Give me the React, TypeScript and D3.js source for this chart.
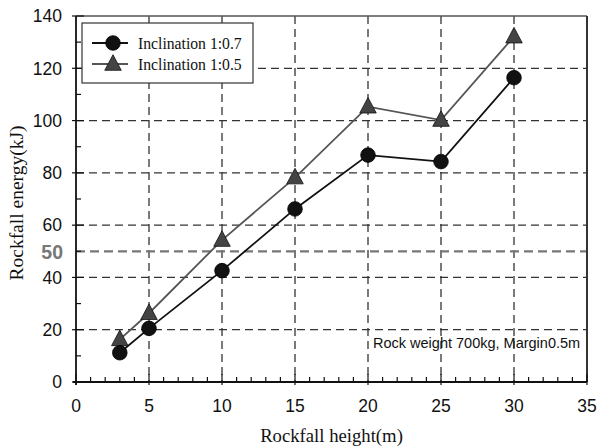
import { scaleLinear, line, range } from "d3";

const heights = [3, 5, 10, 15, 20, 25, 30];
const energy07 = [11.2, 20.5, 42.6, 66.2, 86.8, 84.3, 116.4];
const energy05 = [16.3, 26.3, 54.3, 78.2, 105.3, 100.2, 132.1];
const xTicks = [0, 5, 10, 15, 20, 25, 30, 35];
const yTicks = [0, 20, 40, 60, 80, 100, 120, 140];
const seriesNames = ["Inclination 1:0.7", "Inclination 1:0.5"];
const noteText = "Rock weight 700kg, Margin0.5m";

const width = 598;
const height = 448;
const left = 76;
const right = 587;
const top = 16;
const bottom = 382;

const sans = "'Liberation Sans', Arial, sans-serif";
const serif = "'Liberation Serif', 'Times New Roman', serif";

const triPath = (cx: number, cy: number, s: number) =>
  `M${cx},${cy - s * 0.62} L${cx + s * 0.55},${cy + s * 0.42} L${cx - s * 0.55},${cy + s * 0.42} Z`;

const App = () => {
  const xScale = scaleLinear().domain([0, 35]).range([left, right]);
  const yScale = scaleLinear().domain([0, 140]).range([bottom, top]);

  const lineGen = line<[number, number]>()
    .x((d) => xScale(d[0]))
    .y((d) => yScale(d[1]));

  const pts07 = heights.map((h, i) => [h, energy07[i]] as [number, number]);
  const pts05 = heights.map((h, i) => [h, energy05[i]] as [number, number]);

  return (
    <svg
      width={width}
      height={height}
      style={{ position: "absolute", left: 0, top: 0, background: "#fff" }}
    >
      {/* grid */}
      {xTicks.slice(1, -1).map((t) => (
        <line
          key={"gx" + t}
          x1={xScale(t)}
          x2={xScale(t)}
          y1={top}
          y2={bottom}
          stroke="#222"
          strokeWidth={1.2}
          strokeDasharray="8,5"
        />
      ))}
      {yTicks.slice(1, -1).map((t) => (
        <line
          key={"gy" + t}
          x1={left}
          x2={right}
          y1={yScale(t)}
          y2={yScale(t)}
          stroke="#333"
          strokeWidth={1.2}
          strokeDasharray="8,5"
        />
      ))}
      <line
        x1={left}
        x2={right}
        y1={yScale(50)}
        y2={yScale(50)}
        stroke="#777"
        strokeWidth={2.2}
        strokeDasharray="9,5"
      />

      {/* frame */}
      <line x1={left} x2={right} y1={top} y2={top} stroke="#555" strokeWidth={1.5} />
      <line x1={right} x2={right} y1={top} y2={bottom} stroke="#333" strokeWidth={2} />
      <line x1={left} x2={left} y1={top} y2={bottom + 3} stroke="#111" strokeWidth={1.8} />
      <line x1={left - 3} x2={right} y1={bottom} y2={bottom} stroke="#111" strokeWidth={1.8} />

      {/* x ticks */}
      {range(0, 36).map((t) => (
        <line
          key={"xt" + t}
          x1={xScale(t)}
          x2={xScale(t)}
          y1={t % 5 === 0 ? bottom + 3 : bottom}
          y2={t % 5 === 0 ? bottom - 8 : bottom - 5}
          stroke="#111"
          strokeWidth={1.2}
        />
      ))}
      {xTicks.map((t) => (
        <text
          key={"xl" + t}
          x={xScale(t)}
          y={bottom + 30}
          textAnchor="middle"
          fontFamily={sans}
          fontSize={17.5}
          fill="#111"
        >
          {t}
        </text>
      ))}

      {/* y ticks */}
      {range(0, 141, 10).map((t) => (
        <line
          key={"yt" + t}
          x1={t % 20 === 0 ? left - 4 : left}
          x2={t % 20 === 0 ? left + 8 : left + 5}
          y1={yScale(t)}
          y2={yScale(t)}
          stroke="#111"
          strokeWidth={1.2}
        />
      ))}
      {yTicks.map((t) => (
        <text
          key={"yl" + t}
          x={left - 14}
          y={yScale(t) + 6.3}
          textAnchor="end"
          fontFamily={sans}
          fontSize={17.5}
          fill="#111"
        >
          {t}
        </text>
      ))}
      <text
        x={left - 13}
        y={yScale(50) + 7.5}
        textAnchor="end"
        fontFamily={sans}
        fontSize={19.5}
        fontWeight="bold"
        fill="#777"
      >
        50
      </text>

      {/* series */}
      <path d={lineGen(pts05) ?? ""} fill="none" stroke="#555" strokeWidth={1.8} />
      <path d={lineGen(pts07) ?? ""} fill="none" stroke="#111" strokeWidth={1.8} />
      {pts05.map((d, i) => (
        <path
          key={"tri" + i}
          d={triPath(xScale(d[0]), yScale(d[1]), 15)}
          fill="#444"
          stroke="#111"
          strokeWidth={0.8}
        />
      ))}
      {pts07.map((d, i) => (
        <circle
          key={"cir" + i}
          cx={xScale(d[0])}
          cy={yScale(d[1])}
          r={7.3}
          fill="#111"
          stroke="#000"
          strokeWidth={0.8}
        />
      ))}

      {/* legend */}
      <rect x={82} y={23} width={171} height={60} fill="#fff" stroke="#333" strokeWidth={1.2} />
      <line x1={92} x2={128} y1={43} y2={43} stroke="#111" strokeWidth={1.8} />
      <circle cx={113} cy={43} r={7.3} fill="#111" stroke="#000" strokeWidth={0.8} />
      <line x1={92} x2={128} y1={64} y2={64} stroke="#555" strokeWidth={1.8} />
      <path d={triPath(113, 64, 15)} fill="#444" stroke="#111" strokeWidth={0.8} />
      {seriesNames.map((n, i) => (
        <text
          key={n}
          x={138}
          y={48.5 + i * 21}
          fontFamily={serif}
          fontSize={15.7}
          fill="#111"
        >
          {n}
        </text>
      ))}

      {/* note */}
      <text x={373} y={348} fontFamily={sans} fontSize={14.5} fill="#111">
        {noteText}
      </text>

      {/* axis titles */}
      <text
        x={(left + right) / 2}
        y={442}
        textAnchor="middle"
        fontFamily={serif}
        fontSize={18.7}
        fill="#111"
      >
        Rockfall height(m)
      </text>
      <text
        transform={`translate(23,203) rotate(-90)`}
        textAnchor="middle"
        fontFamily={serif}
        fontSize={19.5}
        fill="#111"
      >
        Rockfall energy(kJ)
      </text>
    </svg>
  );
};

export default App;
